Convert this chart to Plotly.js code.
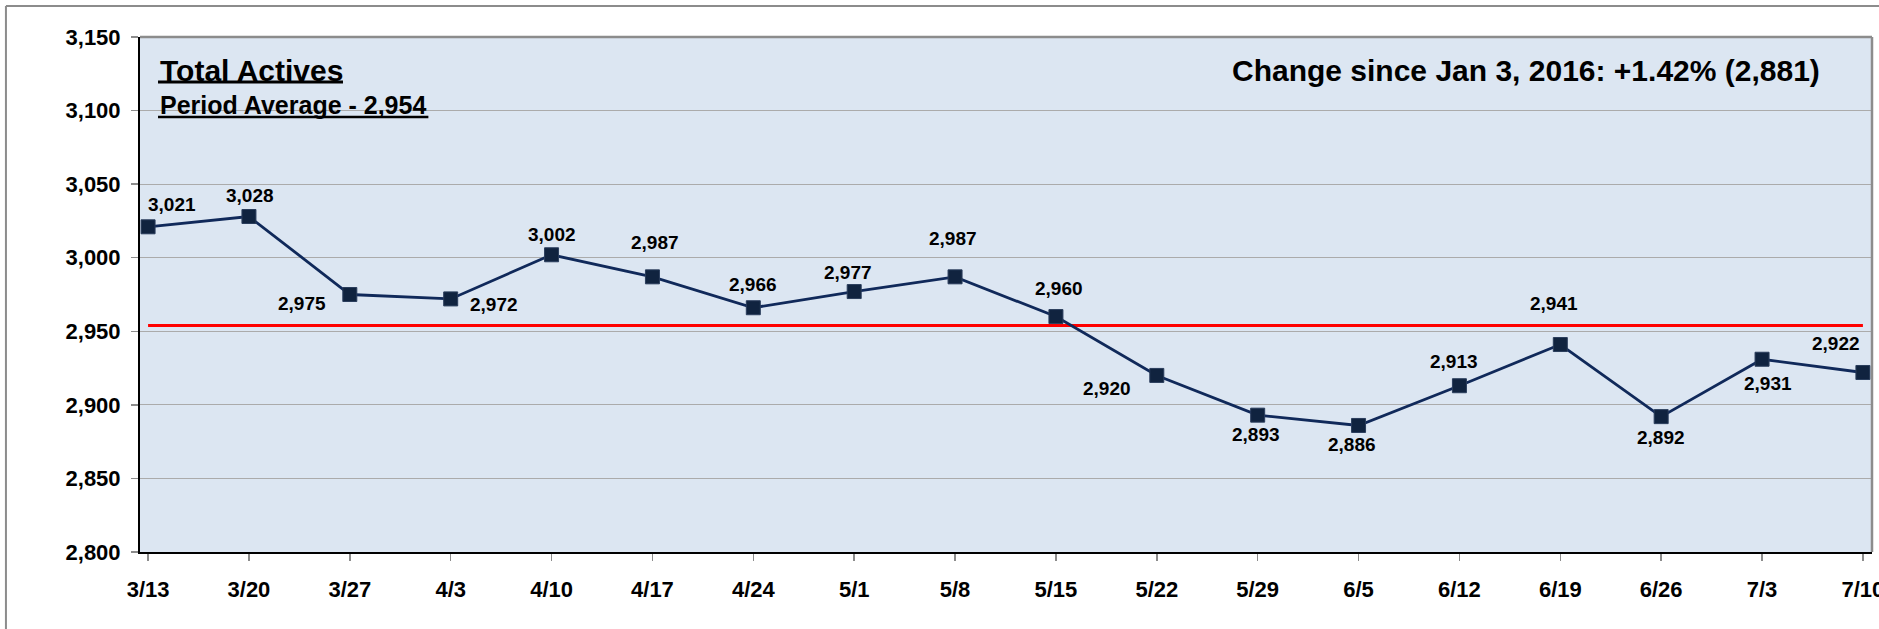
<!DOCTYPE html>
<html>
<head>
<meta charset="utf-8">
<script src="https://cdn.plot.ly/plotly-3.0.1.min.js"></script>
<style>
html,body{margin:0;padding:0;background:#fff;}
#chart{width:1879px;height:629px;}
</style>
</head>
<body>
<div id="chart"></div>
<script>
// ---- data ----
const weeks = ["3/13","3/20","3/27","4/3","4/10","4/17","4/24","5/1","5/8","5/15","5/22","5/29","6/5","6/12","6/19","6/26","7/3","7/10"];
const actives = [3021,3028,2975,2972,3002,2987,2966,2977,2987,2960,2920,2893,2886,2913,2941,2892,2931,2922];
const periodAverage = 2954;
const titleText = "Total Actives";
const subtitleText = "Period Average - 2,954";
const changeText = "Change since Jan 3, 2016: +1.42% (2,881)";

// label placement offsets (px), layout only
const labelDx = [24,1,-48,43,0,3,0,-6,-2,3,-50,-2,-7,-5,-6,0,6,-27];
const labelDy = [22,21,-9,-6,20,34,23,19,38,28,-13,-19,-19,24,41,-21,-24,29];

const FONT = "Arial, 'Liberation Sans', sans-serif";
const fmt = v => v.toLocaleString('en-US');

const avgTrace = {
  x: weeks, y: weeks.map(() => periodAverage), type: 'scatter', mode: 'lines',
  line: {color: '#ff0000', width: 3}, hoverinfo: 'skip', showlegend: false
};
const mainTrace = {
  x: weeks, y: actives, type: 'scatter', mode: 'lines+markers',
  line: {color: '#10295a', width: 2.8},
  marker: {symbol: 'square', size: 14, color: '#10233f', line: {color: '#2a3d5c', width: 1}},
  showlegend: false
};

const annotations = weeks.map((w, i) => ({
  x: w, y: actives[i], xref: 'x', yref: 'y',
  text: '<b>' + fmt(actives[i]) + '</b>', showarrow: false,
  xshift: labelDx[i], yshift: labelDy[i],
  font: {family: FONT, size: 19, color: '#000'}
}));
annotations.push(
  {xref:'paper', yref:'paper', x:0.0104, y:0.935, xanchor:'left', yanchor:'middle',
   text:'<b>'+titleText+'</b>', showarrow:false,
   font:{family:FONT, size:30, color:'#000'}},
  {xref:'paper', yref:'paper', x:0.0104, y:0.868, xanchor:'left', yanchor:'middle',
   text:'<b>'+subtitleText+'</b>', showarrow:false,
   font:{family:FONT, size:25, color:'#000'}},
  {xref:'paper', yref:'paper', x:0.971, y:0.935, xanchor:'right', yanchor:'middle',
   text:'<b>'+changeText+'</b>', showarrow:false,
   font:{family:FONT, size:30, color:'#000'}}
);

const shapes = [
  // plot area top & right borders (gray)
  {type:'line', xref:'paper', yref:'paper', x0:0, x1:1, y0:1, y1:1, line:{color:'#8c8c8c', width:2.5}},
  {type:'line', xref:'paper', yref:'paper', x0:1, x1:1, y0:0, y1:1, line:{color:'#8c8c8c', width:2.5}},
  // outer chart frame (top and left)
  {type:'line', xref:'paper', yref:'paper', x0:-0.0774, x1:1.01, y0:1.0602, y1:1.0602, line:{color:'#8c8c8c', width:2}},
  {type:'line', xref:'paper', yref:'paper', x0:-0.0774, x1:-0.0774, y0:1.0602, y1:-0.16, line:{color:'#8c8c8c', width:2}},
  // heading underlines
  {type:'line', xref:'paper', yref:'paper', x0:0.0104, x1:0.1172, y0:0.9126, y1:0.9126, line:{color:'#000', width:3}},
  {type:'line', xref:'paper', yref:'paper', x0:0.0104, x1:0.1665, y0:0.8447, y1:0.8447, line:{color:'#000', width:2.5}}
];

const layout = {
  width: 1879, height: 629,
  margin: {l: 140, r: 7, t: 37, b: 77, pad: 0},
  paper_bgcolor: '#ffffff', plot_bgcolor: '#dce6f2',
  showlegend: false,
  xaxis: {
    type: 'category', range: [-0.08, 17.09],
    showgrid: false, zeroline: false,
    showline: true, linecolor: '#000', linewidth: 2,
    ticks: 'outside', ticklen: 7, tickcolor: '#8c8c8c', tickwidth: 1.5,
    tickfont: {family: FONT, size: 22, color: '#000', weight: 'bold'},
    ticklabelstandoff: 10
  },
  yaxis: {
    range: [2800, 3150], dtick: 50, tickformat: ',',
    showgrid: true, gridcolor: '#ababab', gridwidth: 1,
    zeroline: false,
    showline: true, linecolor: '#000', linewidth: 2,
    ticks: 'outside', ticklen: 7, tickcolor: '#8c8c8c', tickwidth: 1.5,
    tickfont: {family: FONT, size: 22, color: '#000', weight: 'bold'},
    ticklabelstandoff: 6
  },
  annotations: annotations,
  shapes: shapes
};

Plotly.newPlot('chart', [avgTrace, mainTrace], layout, {displayModeBar: false, staticPlot: true});
</script>
</body>
</html>
